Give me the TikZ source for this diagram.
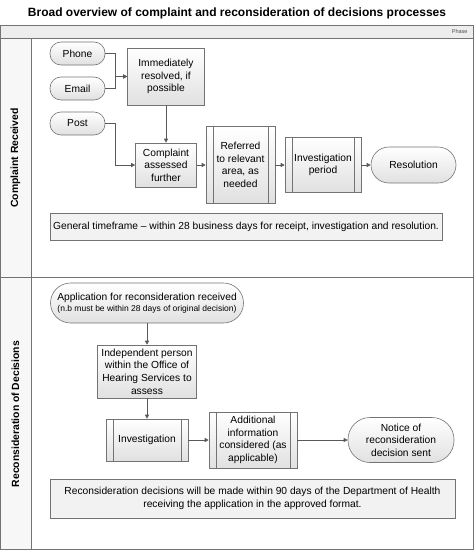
\documentclass[tikz,border=0pt]{standalone}
\usepackage{fontspec}
\setmainfont{Liberation Sans}
\usetikzlibrary{arrows.meta}
\begin{document}
\begin{tikzpicture}[x=1pt,y=-1pt,
  box/.style={draw=black!55, line width=0.6pt, top color=white, bottom color=black!12, align=center,
    font=\fontsize{10.25}{12.6}\selectfont, inner sep=1pt},
  plainbox/.style={draw=black!55, line width=0.6pt, fill=black!5, align=center,
    font=\fontsize{10.25}{12.6}\selectfont, inner sep=1pt},
  term/.style={box, rounded corners=11pt},
  predef/.style={box, path picture={
     \draw[black!55, line width=0.6pt] ([xshift=7pt]path picture bounding box.north west) -- ([xshift=7pt]path picture bounding box.south west);
     \draw[black!55, line width=0.6pt] ([xshift=-7pt]path picture bounding box.north east) -- ([xshift=-7pt]path picture bounding box.south east);}},
  arr/.style={draw=black!65, line width=0.6pt, -{Triangle[length=4pt,width=4pt]}},
  frameline/.style={draw=black!55, line width=0.8pt},
  lanelabel/.style={rotate=90, font=\bfseries\fontsize{10.4}{12}\selectfont}
]
\useasboundingbox (0,0) rectangle (474,551);
% frame
\fill[black!7] (0,25) rectangle (474,38);
\fill[black!3] (0,38) rectangle (31.5,549);
\draw[frameline] (0,25) -- (474,25);
\draw[frameline] (0,38) -- (474,38);
\draw[frameline] (0.4,25) -- (0.4,549.5);
\draw[frameline] (473.6,25) -- (473.6,549.5);
\draw[frameline] (0,549.5) -- (474,549.5);
\draw[frameline] (31.5,38) -- (31.5,549.5);
\draw[frameline] (0,277) -- (474,277);
\node[font=\bfseries\fontsize{12}{14}\selectfont] (title) at (237,13) {Broad overview of complaint and reconsideration of decisions processes};
\node[font=\fontsize{5.5}{6}\selectfont, anchor=east, text=black!70] (phase) at (471,32) {Phase};
\node[lanelabel] (l1) at (15.5,158) {Complaint Received};
\node[lanelabel] (l2) at (15.5,414) {Reconsideration of Decisions};
% lane 1
\node[term, minimum width=55, minimum height=23] (phone) at (77.5,53.5) {Phone};
\node[term, minimum width=55, minimum height=23] (email) at (77.5,88.5) {Email};
\node[term, minimum width=55, minimum height=23] (post) at (77.5,123.5) {Post};
\node[box, minimum width=77, minimum height=57] (imm) at (166,76.5) {Immediately\\resolved, if\\possible};
\node[box, minimum width=61, minimum height=44] (cas) at (166,165) {Complaint\\assessed\\further};
\node[predef, minimum width=69, minimum height=77] (ref) at (240.5,165) {Referred\\to relevant\\area, as\\needed};
\node[predef, minimum width=76, minimum height=55] (inv) at (323,165) {Investigation\\period};
\node[term, minimum width=85, minimum height=36, rounded corners=18pt] (res) at (413.5,165) {Resolution};
\node[plainbox, minimum width=392, minimum height=27] (gen) at (246,226.5) {General timeframe – within 28 business days for receipt, investigation and resolution.};
\draw[arr] (phone.east) -- ++(10,0) |- (imm.west);
\draw[arr] (email.east) -- ++(10,0) |- (imm.west);
\draw[arr] (post.east) -- ++(10,0) |- (cas.west);
\draw[arr] (imm.south) -- (cas.north);
\draw[arr] (cas) -- (ref);
\draw[arr] (ref) -- (inv);
\draw[arr] (inv) -- (res);
% lane 2
\node[term, minimum width=193, minimum height=40, rounded corners=20pt] (app) at (147,303) {Application for reconsideration received\\[-2pt]{\fontsize{8.5}{10}\selectfont (n.b must be within 28 days of original decision)}};
\node[box, minimum width=99, minimum height=53] (ind) at (147,371.5) {Independent person\\within the Office of\\Hearing Services to\\assess};
\node[predef, minimum width=82, minimum height=42] (inv2) at (147,440) {Investigation};
\node[predef, minimum width=88, minimum height=56] (add) at (253,440) {Additional\\information\\considered (as\\applicable)};
\node[term, minimum width=106, minimum height=45, rounded corners=22pt] (not) at (401,440) {Notice of\\reconsideration\\decision sent};
\node[plainbox, minimum width=405, minimum height=39] (rec) at (252.5,498.5) {Reconsideration decisions will be made within 90 days of the Department of Health\\receiving the application in the approved format.};
\draw[arr] (app.south) -- (ind.north);
\draw[arr] (ind.south) -- (inv2.north);
\draw[arr] (inv2) -- (add);
\draw[arr] (add) -- (not);
\end{tikzpicture}
\end{document}
